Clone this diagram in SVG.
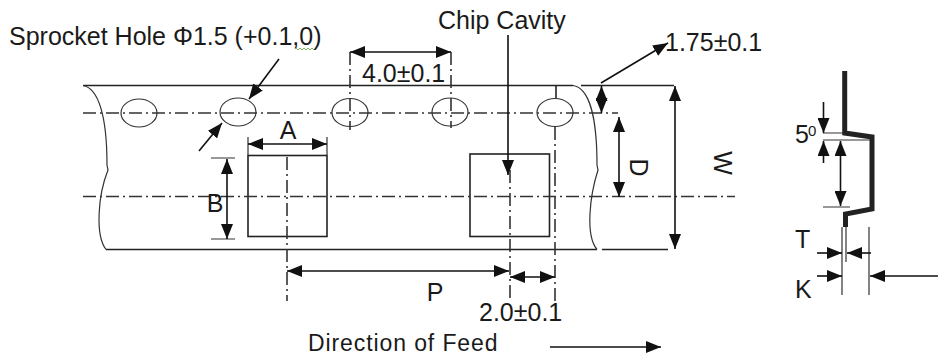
<svg xmlns="http://www.w3.org/2000/svg" width="938" height="356" viewBox="0 0 938 356">
<style>
text{font-family:"Liberation Sans",Arial,sans-serif;font-size:25px;fill:#1a1a1a}
.l{fill:none;stroke:#222;stroke-width:1.6}
.t{fill:none;stroke:#333;stroke-width:1.2}
.c{fill:none;stroke:#333;stroke-width:1.6;stroke-dasharray:13 4 2 4}
.a{fill:none;stroke:#111;stroke-width:1.6;marker-end:url(#ah)}
.b{fill:none;stroke:#111;stroke-width:1.6;marker-start:url(#ahs);marker-end:url(#ah)}
</style>
<defs>
<marker id="ah" markerUnits="userSpaceOnUse" markerWidth="16" markerHeight="12" refX="15" refY="6" orient="auto"><path d="M0 0L15 6L0 12Z" fill="#111"/></marker>
<marker id="ahs" markerUnits="userSpaceOnUse" markerWidth="16" markerHeight="12" refX="0" refY="6" orient="auto"><path d="M15 0L0 6L15 12Z" fill="#111"/></marker>
</defs>
<g id="tape">
<path class="l" d="M83 85.5H573M581 85.5H674M106 249.5H597M602 249.5H668"/>
<path class="t" d="M83 85.5C98 88 107 115 107 165L108 170C98 195 95 235 106 249.5"/>
<path class="t" d="M573 85.5C590 88 597 120 597 165L598 170C590 195 585 235 597 249.5"/>
</g>
<g id="holes" class="t">
<ellipse cx="139" cy="113" rx="18" ry="14"/>
<ellipse cx="238" cy="112" rx="18" ry="14"/>
<ellipse cx="350" cy="112.500" rx="18" ry="14"/>
<ellipse cx="450" cy="112" rx="18" ry="14"/>
<ellipse cx="555" cy="112.500" rx="18" ry="14"/>
</g>
<g id="cavity-left"><rect class="l" x="248" y="155.500" width="79" height="81"/></g>
<g id="cavity-right"><rect class="l" x="470" y="154" width="79.500" height="82.500"/></g>
<g id="centerlines">
<path class="c" d="M83 113H618M83 196.500H735"/>
<path class="c" d="M287 157V301M510 170V301M555 127V301M350 52V130M451 52V128"/>
<path class="l" d="M556 86V98"/>
</g>
<g id="connectors">
<path class="a" d="M279 59L249 99"/>
<path class="a" d="M199 151L222 123"/>
<path class="b" d="M350 52H451"/>
<path class="a" d="M508 35V175"/>
<path class="a" d="M601 83L668 43"/>
<path class="b" d="M601.500 86V113"/>
<path class="b" d="M619 117V197"/>
<path class="b" d="M675 86V249"/>
<path class="t" d="M248 137V155M327 137V155M211 158H235M211 239H235"/>
<path class="b" d="M248 144H327"/>
<path class="b" d="M227 159V239"/>
<path class="b" d="M287 271H509"/>
<path class="b" d="M510 277H555"/>
<path class="a" d="M550 347H661"/>
</g>
<g id="section">
<path d="M844.700 71V133L872 137V209L845.500 214V227" fill="none" stroke="#222" stroke-width="5"/>
<path class="t" d="M823 133H843M823 140H870M823 207H850M842 227V295M846 227V262M869 227V295"/>
<path class="a" d="M823.500 102V133"/>
<path class="a" d="M823.500 163V141"/>
<path class="b" d="M840.500 141V206"/>
<path class="a" d="M817 253H842"/>
<path class="a" d="M871 253H847"/>
<path class="a" d="M817 276H842"/>
<path class="a" d="M938 276H870"/>
</g>
<g id="labels">
<text x="9" y="45">Sprocket Hole Φ1.5 (+0.1,0)</text>
<path d="M296 48l2 2 2-2 2 2 2-2 2 2 2-2 2 2 2-2 2 2" fill="none" stroke="#5a9a3a" stroke-width="0.8"/>
<text x="438" y="29">Chip Cavity</text>
<text x="362" y="81.500">4.0±0.1</text>
<text x="665" y="51">1.75±0.1</text>
<text x="288" y="139" text-anchor="middle">A</text>
<text x="215" y="212" text-anchor="middle">B</text>
<text x="435" y="300.500" text-anchor="middle">P</text>
<text x="479" y="320.500">2.0±0.1</text>
<text x="308" y="351" style="font-size:23px;letter-spacing:0.9px">Direction of Feed</text>
<text transform="translate(630 167.500) rotate(90)" text-anchor="middle">D</text>
<text transform="translate(714 163) rotate(90)" text-anchor="middle">W</text>
<text x="795" y="143">5</text><text x="808" y="136" style="font-size:15px">0</text>
<text x="795" y="248">T</text>
<text x="795" y="298">K</text>
</g>
</svg>
